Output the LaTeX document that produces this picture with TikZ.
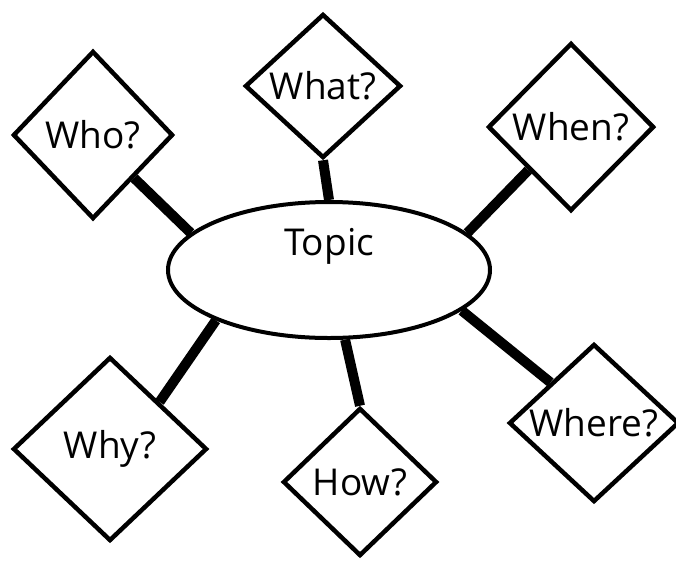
\documentclass[tikz,border=0pt]{standalone}
\usepackage{fontspec}
\setmainfont{Open Sans}
\usetikzlibrary{shapes.geometric}

\begin{document}
\begin{tikzpicture}[x=1pt, y=-1pt,
  qbox/.style={draw, diamond, line width=4.5pt, inner sep=0pt, aspect=1.1, font=\fontsize{37}{44}\selectfont},
  link/.style={line width=10pt}]
\useasboundingbox (0,0) rectangle (676,560);
\node[draw, ellipse, line width=4pt, minimum width=322pt, minimum height=136pt,
  label={[font=\fontsize{37}{44}\selectfont, yshift=24pt]center:Topic}] (Topic) at (329,270) {};
\node[qbox, minimum width=160pt, minimum height=168pt] (Who) at (93,135) {Who?};
\node[qbox, minimum width=156pt, minimum height=144pt] (What) at (323,86) {What?};
\node[qbox, minimum width=166pt, minimum height=168pt] (When) at (571,127) {When?};
\node[qbox, minimum width=194pt, minimum height=184pt] (Why) at (110,449) {Why?};
\node[qbox, minimum width=154pt, minimum height=148pt] (How) at (360,482) {How?};
\node[qbox, minimum width=170pt, minimum height=158pt] (Where) at (594,423) {Where?};
\draw[link] (Who.south east) -- (Topic.165);
\draw[link] (What.south) -- (Topic.north);
\draw[link] (When.south west) -- (Topic.15);
\draw[link] (Why.north east) -- (Topic.204);
\draw[link] (How.north) -- (Topic.283);
\draw[link] (Where.north west) -- (Topic.343);
\end{tikzpicture}
\end{document}
